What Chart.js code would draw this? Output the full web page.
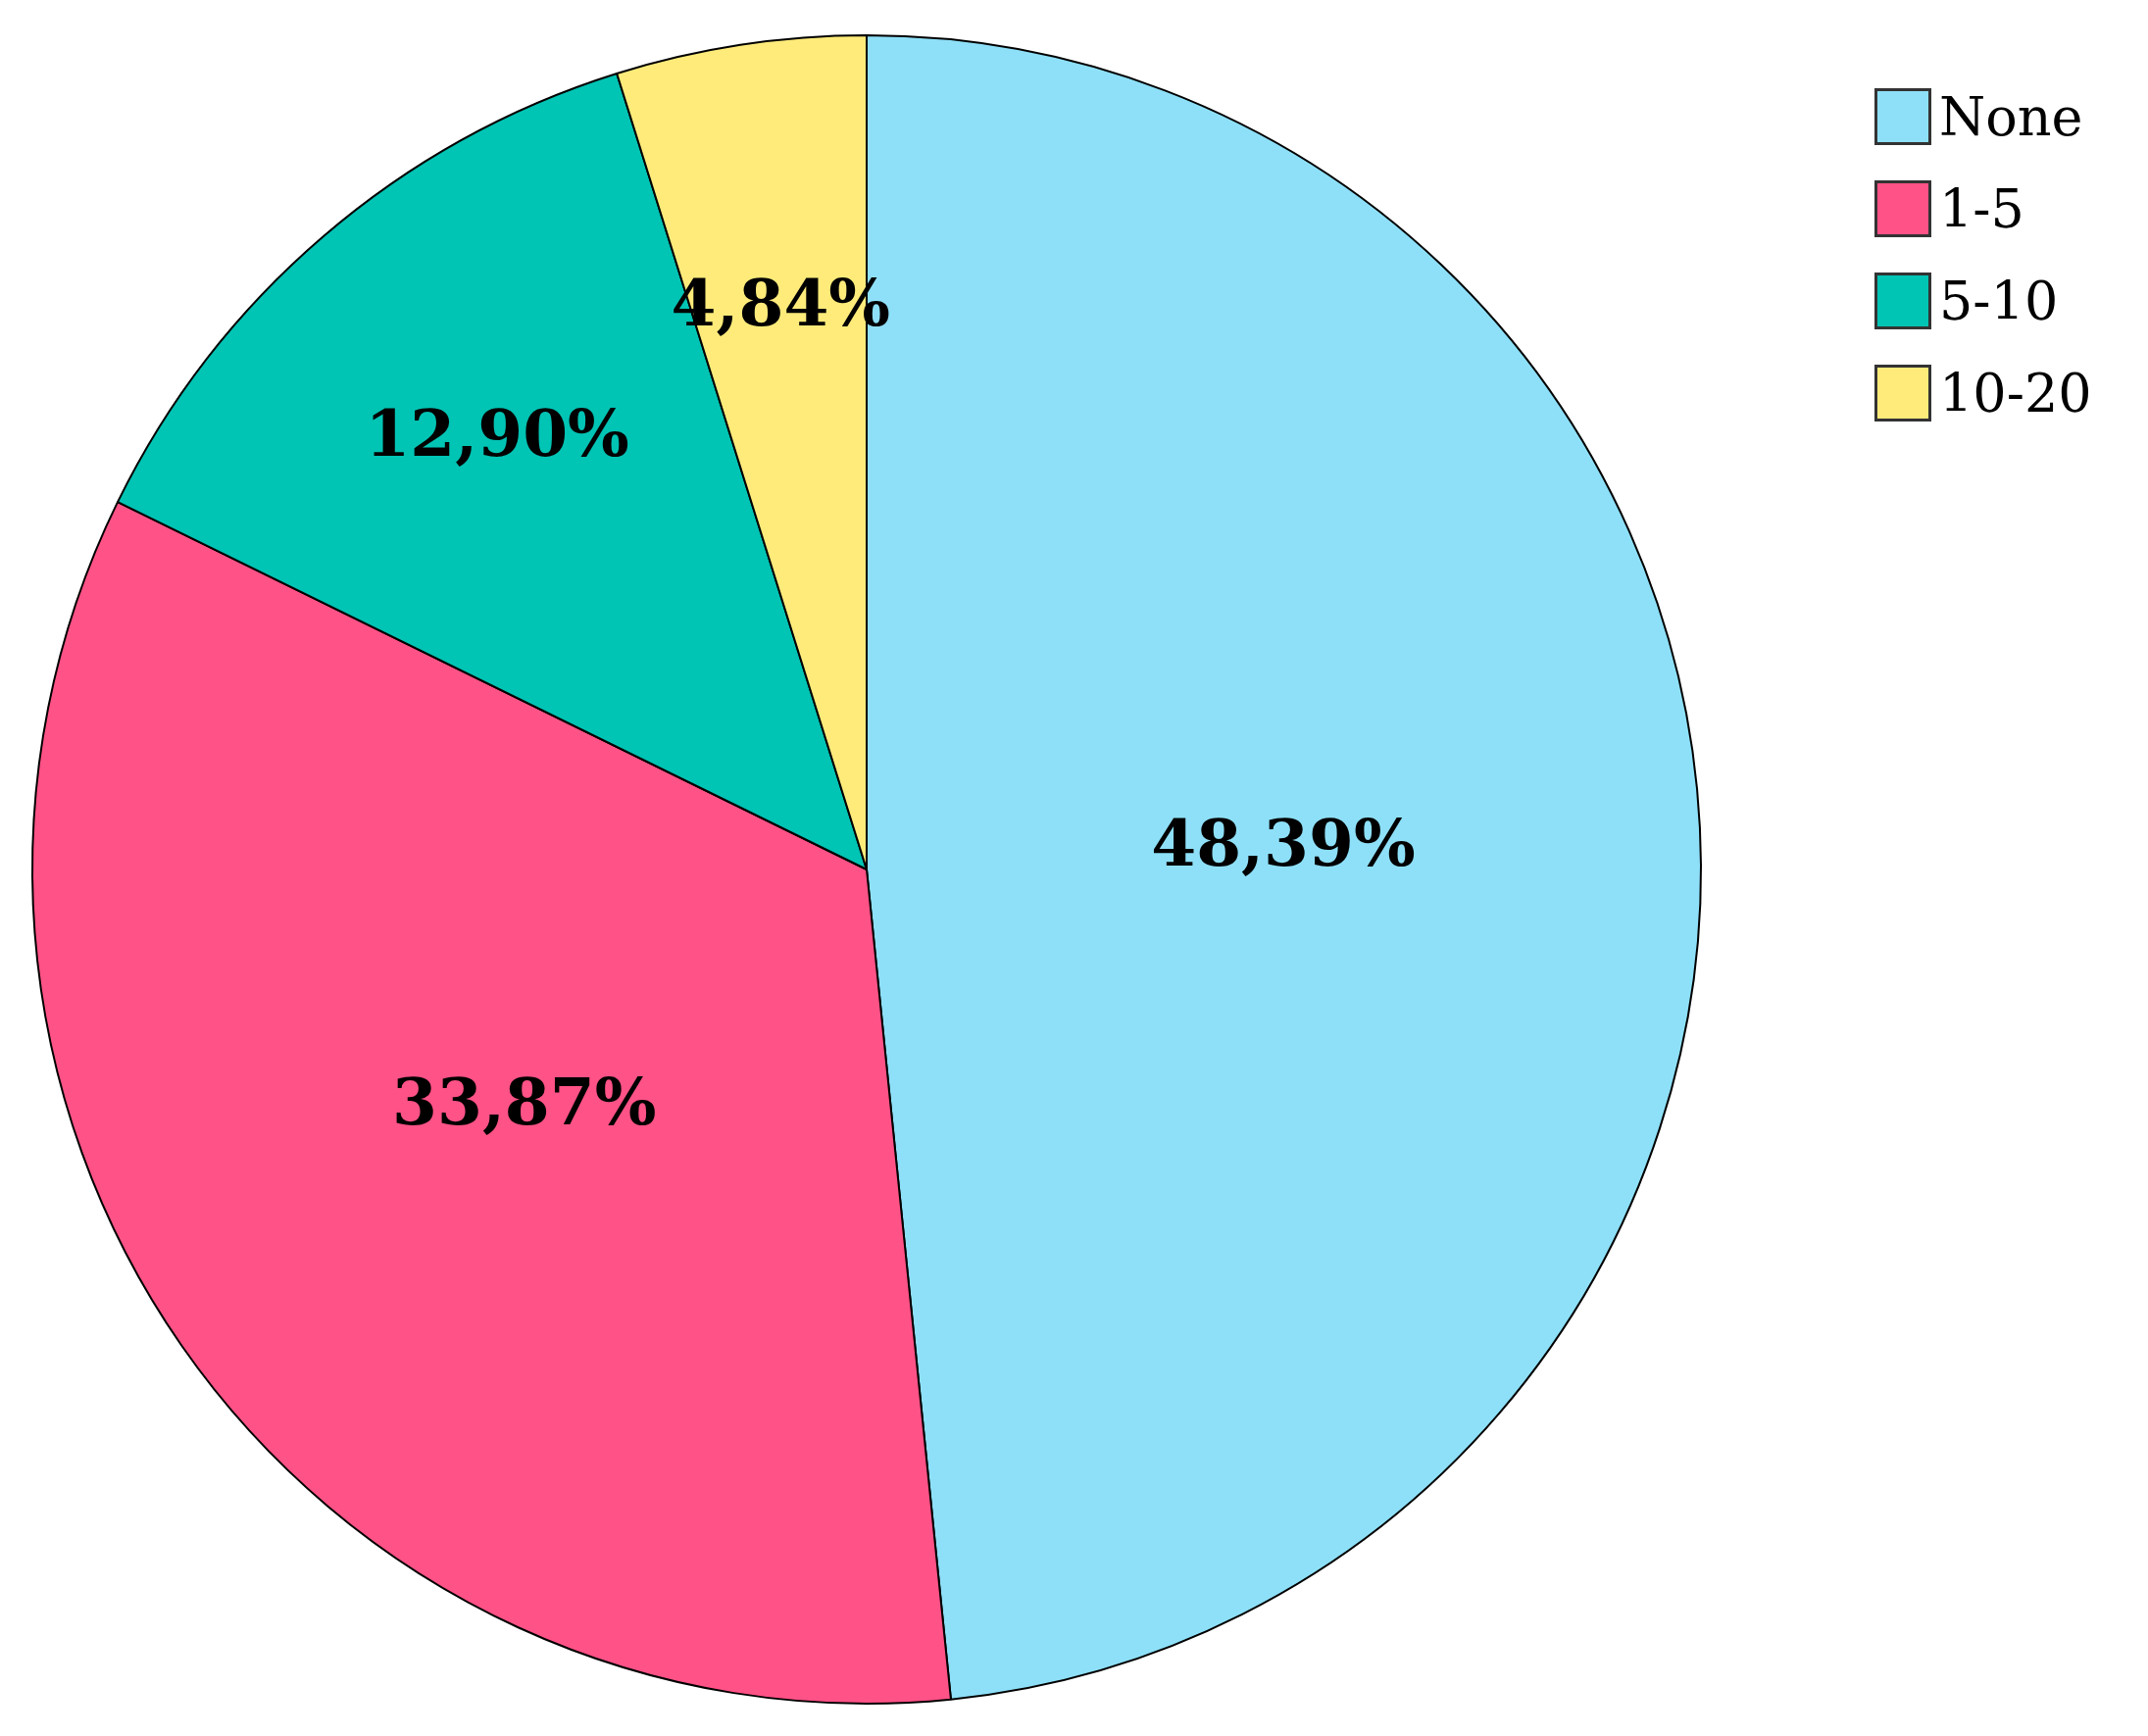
<!DOCTYPE html>
<html>
<head>
<meta charset="utf-8">
<script src="https://cdn.jsdelivr.net/npm/chart.js@4"></script>
<style>
  body { margin: 0; background: #fff; }
  #wrap { position: relative; width: 2191px; height: 1771px; }
  #legend { position: absolute; left: 1912px; top: 88px; font-family: "DejaVu Serif", "Liberation Serif", serif; font-size: 54px; color: #000; }
  .item { display: flex; align-items: center; height: 62px; margin-bottom: 32px; }
  .box { width: 58px; height: 58px; border: 3px solid #333; box-sizing: border-box; margin-right: 8px; }
</style>
</head>
<body>
<div id="wrap">
  <canvas id="pie" width="2191" height="1771"></canvas>
  <div id="legend"></div>
</div>
<script>
const A_labels = ["None", "1-5", "5-10", "10-20"];
const A_values = [48.39, 33.87, 12.90, 4.84];
const A_colors = ["#8EE0F8", "#FF5287", "#00C4B4", "#FFEB7A"];

// Étiquettes de pourcentage sur les parts
const O_labelPlugin = {
  id: "sliceLabels",
  afterDatasetsDraw(O_chart) {
    const O_ctx = O_chart.ctx;
    const A_arcs = O_chart.getDatasetMeta(0).data;
    O_ctx.save();
    O_ctx.font = "bold 66px 'DejaVu Serif', 'Liberation Serif', serif";
    O_ctx.fillStyle = "#000";
    O_ctx.textAlign = "center";
    O_ctx.textBaseline = "middle";
    A_arcs.forEach((O_arc, I_i) => {
      const F_k = A_values[I_i] > 30 ? 0.5 : 0.68;
      const F_mid = (O_arc.startAngle + O_arc.endAngle) / 2;
      const F_r = O_arc.outerRadius * F_k;
      const F_x = O_arc.x + Math.cos(F_mid) * F_r;
      const F_y = O_arc.y + Math.sin(F_mid) * F_r;
      O_ctx.fillText(A_values[I_i].toFixed(2).replace(".", ",") + "%", F_x, F_y);
    });
    O_ctx.restore();
  },
};

new Chart(document.getElementById("pie").getContext("2d"), {
  type: "pie",
  data: {
    labels: A_labels,
    datasets: [{
      data: A_values,
      backgroundColor: A_colors,
      borderColor: "#000",
      borderWidth: 2,
    }],
  },
  options: {
    responsive: false,
    animation: false,
    layout: { padding: { left: 32, right: 455, top: 35, bottom: 32 } },
    plugins: { legend: { display: false }, tooltip: { enabled: false } },
  },
  plugins: [O_labelPlugin],
});

const O_legend = document.getElementById("legend");
A_labels.forEach((S_label, I_i) => {
  const O_item = document.createElement("div");
  O_item.className = "item";
  O_item.innerHTML = '<div class="box" style="background:' + A_colors[I_i] + '"></div><span>' + S_label + "</span>";
  O_legend.appendChild(O_item);
});
</script>
</body>
</html>
